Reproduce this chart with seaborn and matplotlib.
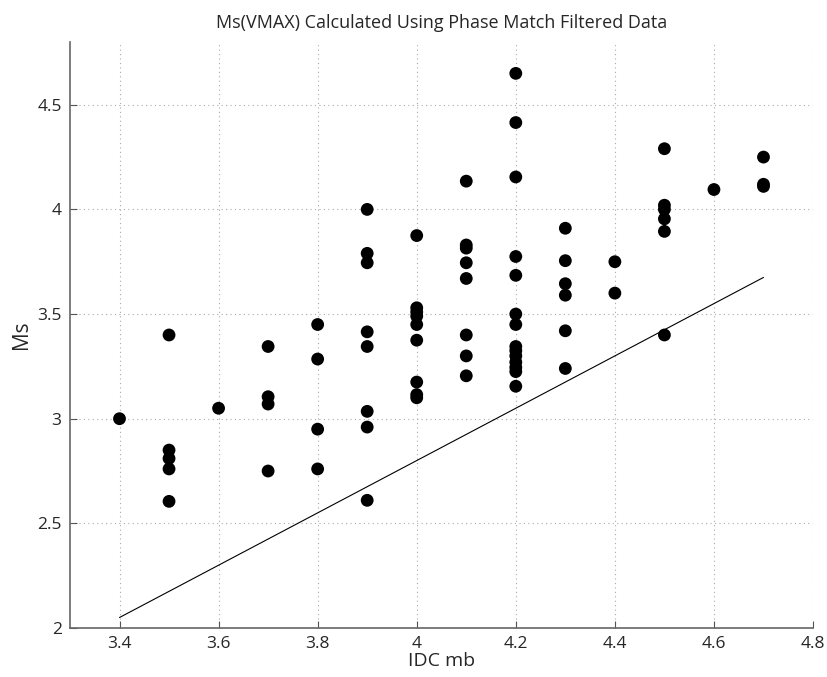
import pandas as pd
import matplotlib
matplotlib.use('Agg')
import matplotlib.pyplot as plt
import seaborn as sns

# IDC mb values, one entry per event, and the Ms(VMAX) read for each
mb = ([3.4] + [3.5] * 5 + [3.6] + [3.7] * 4 + [3.8] * 4 + [3.9] * 8 + [4.0] * 9
      + [4.1] * 8 + [4.2] * 14 + [4.3] * 6 + [4.4] * 2 + [4.5] * 6 + [4.6] + [4.7] * 3)
ms = [3.00,
      3.40, 2.85, 2.81, 2.76, 2.605,
      3.05,
      3.345, 3.105, 3.07, 2.75,
      3.45, 3.285, 2.95, 2.76,
      4.00, 3.79, 3.745, 3.415, 3.345, 3.035, 2.96, 2.61,
      3.875, 3.53, 3.51, 3.49, 3.45, 3.375, 3.175, 3.115, 3.10,
      4.135, 3.83, 3.815, 3.745, 3.67, 3.40, 3.30, 3.205,
      4.65, 4.415, 4.155, 3.775, 3.685, 3.50, 3.45, 3.345, 3.325, 3.30, 3.27, 3.245, 3.225, 3.155,
      3.91, 3.755, 3.645, 3.59, 3.42, 3.24,
      3.75, 3.60,
      4.29, 4.02, 4.00, 3.955, 3.895, 3.40,
      4.095,
      4.25, 4.12, 4.11]

# reference line
line_mb = [3.4, 4.7]
line_ms = [2.05, 3.675]

x_ticks = [3.4, 3.6, 3.8, 4.0, 4.2, 4.4, 4.6, 4.8]
x_labels = ['3.4', '3.6', '3.8', '4', '4.2', '4.4', '4.6', '4.8']
y_ticks = [2.0, 2.5, 3.0, 3.5, 4.0, 4.5]
y_labels = ['2', '2.5', '3', '3.5', '4', '4.5']

df = pd.DataFrame({'mb': mb, 'Ms': ms})

sns.set_style('white')
plt.rcParams['font.family'] = ['Open Sans', 'DejaVu Sans']

fig = plt.figure(figsize=(8.27, 6.77), dpi=100)
ax = fig.add_axes([0.0846, 0.0724, 0.8985, 0.8656])

ax.plot(line_mb, line_ms, color='black', linewidth=0.8, zorder=2)
sns.scatterplot(data=df, x='mb', y='Ms', color='black', s=85, edgecolor='none',
                ax=ax, zorder=3, legend=False)

ax.set_xlim(3.3, 4.8)
ax.set_ylim(2.0, 4.8)
ax.set_xticks(x_ticks)
ax.set_xticklabels(x_labels)
ax.set_yticks(y_ticks)
ax.set_yticklabels(y_labels)

ax.grid(True, linestyle=(0, (1, 3)), color='#aaaaaa', linewidth=0.8)
ax.tick_params(direction='in', length=5, labelsize=12.5, color='#555555',
               bottom=True, left=True, pad=6)
for side in ['top', 'right']:
    ax.spines[side].set_visible(False)
for side in ['left', 'bottom']:
    ax.spines[side].set_color('#666666')
    ax.spines[side].set_linewidth(1.2)

ax.set_title('Ms(VMAX) Calculated Using Phase Match Filtered Data', fontsize=13, pad=10)
ax.set_xlabel('IDC mb', fontsize=14, labelpad=0)
ax.set_ylabel('Ms', fontsize=15, labelpad=4)

fig.savefig('out.png', dpi=100)
